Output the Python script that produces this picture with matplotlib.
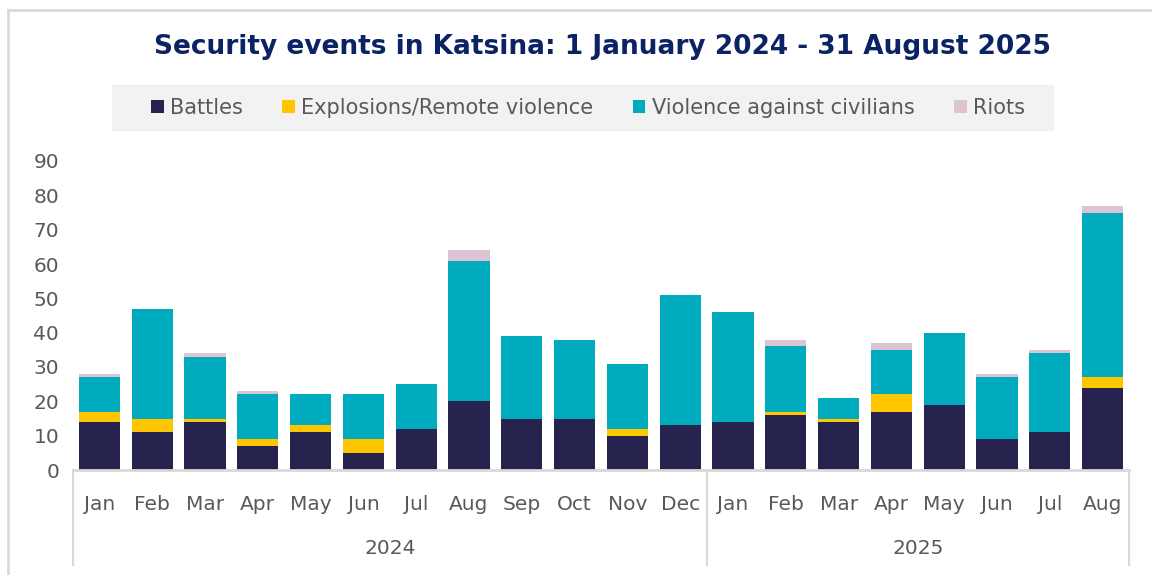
import numpy as np
import matplotlib
matplotlib.use('Agg')
from matplotlib import pyplot as plt
from matplotlib.lines import Line2D
from matplotlib.patches import Rectangle
from matplotlib import transforms

# data
months = ['Jan', 'Feb', 'Mar', 'Apr', 'May', 'Jun', 'Jul', 'Aug', 'Sep', 'Oct', 'Nov', 'Dec',
          'Jan', 'Feb', 'Mar', 'Apr', 'May', 'Jun', 'Jul', 'Aug']
years = ['2024', '2025']
year_counts = [12, 8]
battles = [14, 11, 14, 7, 11, 5, 12, 20, 15, 15, 10, 13, 14, 16, 14, 17, 19, 9, 11, 24]
explosions = [3, 4, 1, 2, 2, 4, 0, 0, 0, 0, 2, 0, 0, 1, 1, 5, 0, 0, 0, 3]
violence = [10, 32, 18, 13, 9, 13, 13, 41, 24, 23, 19, 38, 32, 19, 6, 13, 21, 18, 23, 48]
riots = [1, 0, 1, 1, 0, 0, 0, 3, 0, 0, 0, 0, 0, 2, 0, 2, 0, 1, 1, 2]

series = [('Battles', battles, '#26244f'),
          ('Explosions/Remote violence', explosions, '#ffc600'),
          ('Violence against civilians', violence, '#00abbd'),
          ('Riots', riots, '#dcc4d3')]

W, H = 1152, 575
fig = plt.figure(figsize=(W / 100, H / 100), dpi=100)
ax = fig.add_axes([73 / W, 1 - 470 / H, (1129 - 73) / W, (470 - 161) / H])

x = np.arange(len(months))
bottom = np.zeros(len(months))
for name, vals, col in series:
    ax.bar(x, vals, width=0.78, bottom=bottom, color=col, label=name, zorder=2)
    bottom += np.array(vals)

ax.set_xlim(-0.5, len(months) - 0.5)
ax.set_ylim(0, 90)
ax.set_yticks(range(0, 91, 10))
ax.set_xticks(x)
ax.set_xticklabels(months)
ax.tick_params(axis='both', length=0, labelsize=14.5, labelcolor='#595959')
ax.tick_params(axis='x', pad=18)
ax.tick_params(axis='y', pad=10)
for s in ['top', 'right', 'left']:
    ax.spines[s].set_visible(False)
ax.spines['bottom'].set_color('#d9d9d9')
ax.spines['bottom'].set_linewidth(2)

# two-level category axis
trans = transforms.blended_transform_factory(ax.transData, ax.transAxes)
low = -(565 - 470) / (470 - 161)
start = -0.5
edges = [start]
for yr, n in zip(years, year_counts):
    ax.text(start + n / 2, -(548 - 470) / (470 - 161), yr, transform=trans,
            ha='center', va='center', fontsize=14.5, color='#595959')
    start += n
    edges.append(start)
for e in edges:
    ax.add_line(Line2D([e, e], [0, low], transform=trans, color='#d9d9d9',
                       lw=1.5, clip_on=False))

# title
fig.text(602 / W, 1 - 47 / H, 'Security events in Katsina: 1 January 2024 - 31 August 2025',
         ha='center', va='center', fontsize=19, fontweight='bold', color='#0b2265')

# legend on grey band
fig.add_artist(Rectangle((112 / W, 1 - 130 / H), (1053 - 112) / W, 45 / H,
                         transform=fig.transFigure, color='#f2f2f2', zorder=0))
handles, labels = ax.get_legend_handles_labels()
leg = fig.legend(handles, labels, loc='center', bbox_to_anchor=(588 / W, 1 - 108 / H),
                 ncol=4, frameon=False, fontsize=15, handlelength=0.6, handleheight=0.6,
                 handletextpad=0.3, columnspacing=1.9, labelcolor='#595959')

# outer border
fig.add_artist(Line2D([8 / W, 8 / W], [0, 1 - 10 / H], transform=fig.transFigure,
                      color='#d9d9d9', lw=2))
fig.add_artist(Line2D([8 / W, 1], [1 - 10 / H, 1 - 10 / H], transform=fig.transFigure,
                      color='#d9d9d9', lw=2))

plt.savefig('out.png', dpi=100)
